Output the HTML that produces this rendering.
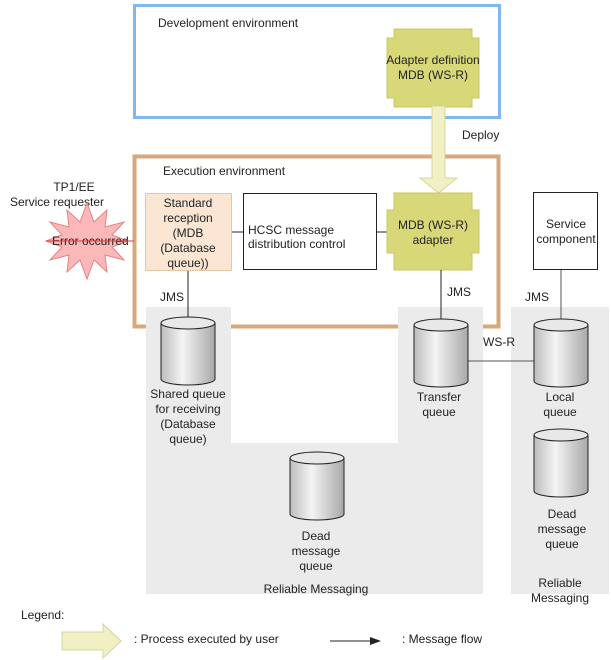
<!DOCTYPE html>
<html><head><meta charset="utf-8"><style>
html,body{margin:0;padding:0;background:#fff;}
svg{display:block;}
text{font-family:"Liberation Sans",sans-serif;font-size:12px;fill:#222;}
</style></head><body>
<svg width="611" height="660" viewBox="0 0 611 660" xmlns="http://www.w3.org/2000/svg">
<defs>
<linearGradient id="cyl" x1="0" x2="1" y1="0" y2="0">
<stop offset="0" stop-color="#bdbdbd"/><stop offset="0.4" stop-color="#f4f4f4"/><stop offset="1" stop-color="#a8a8a8"/>
</linearGradient>
<g id="cy">
<path d="M-27,0 L-27,56 A27,6 0 0 0 27,56 L27,0" fill="url(#cyl)" stroke="#222" stroke-width="1"/>
<ellipse cx="0" cy="0" rx="27" ry="6" fill="#e8e8e8" stroke="#222" stroke-width="1"/>
</g>
</defs>
<!-- gray regions -->
<path d="M146,307 H231 V443 H398 V307 H483 V594 H146 Z" fill="#ebebeb"/>
<rect x="511" y="307" width="98" height="287" fill="#ebebeb"/>
<!-- dev env -->
<rect x="134.5" y="5.5" width="365" height="112" fill="none" stroke="#7fb7f0" stroke-width="3"/>
<text x="158" y="27">Development environment</text>
<!-- adapter def -->
<path d="M394,29 H472 V38 H479 V98 H472 V107 H394 V98 H387 V38 H394 Z" fill="#d8d878" stroke="#c8c860"/>
<text x="433" y="64" text-anchor="middle">Adapter definition</text>
<text x="433" y="79" text-anchor="middle">MDB (WS-R)</text>
<!-- exec env -->
<rect x="134.5" y="156.5" width="364" height="170" fill="none" stroke="#d8a878" stroke-width="4"/>
<text x="163" y="175">Execution environment</text>
<!-- gray columns over exec border -->
<rect x="146" y="307" width="85" height="22" fill="#ebebeb"/>
<rect x="398" y="307" width="85" height="22" fill="#ebebeb"/>
<!-- deploy arrow -->
<path d="M432,106 H445 V178 H457 L438.5,193 L420,178 H432 Z" fill="#f0f0c4" stroke="#d4d4a0"/>
<text x="462" y="139">Deploy</text>
<!-- std reception -->
<rect x="145.5" y="193.5" width="86" height="77" fill="#fae6d2" stroke="#e8c8a4"/>
<text x="188" y="207" text-anchor="middle">Standard</text>
<text x="188" y="222" text-anchor="middle">reception</text>
<text x="188" y="237" text-anchor="middle">(MDB</text>
<text x="188" y="252" text-anchor="middle">(Database</text>
<text x="188" y="267" text-anchor="middle">queue))</text>
<!-- HCSC -->
<rect x="243.5" y="193.5" width="133" height="76" fill="#fff" stroke="#222"/>
<text x="248" y="234">HCSC message</text>
<text x="248" y="248">distribution control</text>
<line x1="232" y1="232" x2="243" y2="232" stroke="#222"/>
<line x1="377" y1="232" x2="387" y2="232" stroke="#222"/>
<!-- MDB adapter -->
<path d="M394,193 H472 V210 H479 V253 H472 V270 H394 V253 H387 V210 H394 Z" fill="#d8d878" stroke="#c8c860"/>
<text x="433" y="229" text-anchor="middle">MDB (WS-R)</text>
<text x="433" y="244" text-anchor="middle">adapter</text>
<!-- service component -->
<rect x="533.5" y="192.5" width="64" height="77" fill="#fff" stroke="#222"/>
<text x="566" y="228" text-anchor="middle">Service</text>
<text x="566" y="243" text-anchor="middle">component</text>
<!-- connectors -->
<line x1="188" y1="271" x2="188" y2="318" stroke="#222"/>
<line x1="441" y1="270" x2="441" y2="320" stroke="#222"/>
<line x1="561" y1="270" x2="561" y2="320" stroke="#555"/>
<line x1="468" y1="361" x2="534" y2="361" stroke="#555"/>
<text x="160" y="301">JMS</text>
<text x="447" y="296">JMS</text>
<text x="525" y="301">JMS</text>
<text x="483" y="346">WS-R</text>
<!-- cylinders -->
<use href="#cy" x="188" y="323"/>
<use href="#cy" x="441" y="325"/>
<use href="#cy" x="561" y="325"/>
<use href="#cy" x="317" y="458"/>
<use href="#cy" x="561" y="435"/>
<text x="188" y="398" text-anchor="middle">Shared queue</text>
<text x="188" y="413" text-anchor="middle">for receiving</text>
<text x="188" y="428" text-anchor="middle">(Database</text>
<text x="188" y="443" text-anchor="middle">queue)</text>
<text x="439" y="401" text-anchor="middle">Transfer</text>
<text x="439" y="416" text-anchor="middle">queue</text>
<text x="560" y="401" text-anchor="middle">Local</text>
<text x="560" y="416" text-anchor="middle">queue</text>
<text x="316" y="540" text-anchor="middle">Dead</text>
<text x="316" y="555" text-anchor="middle">message</text>
<text x="316" y="570" text-anchor="middle">queue</text>
<text x="562" y="518" text-anchor="middle">Dead</text>
<text x="562" y="533" text-anchor="middle">message</text>
<text x="562" y="548" text-anchor="middle">queue</text>
<text x="316" y="593" text-anchor="middle">Reliable Messaging</text>
<text x="560" y="587" text-anchor="middle">Reliable</text>
<text x="560" y="602" text-anchor="middle">Messaging</text>
<!-- requester -->
<text x="74" y="191" text-anchor="middle">TP1/EE</text>
<text x="57" y="206" text-anchor="middle">Service requester</text>
<polygon points="87,203 94,222 107,210 105,227 124,222 112,235 128,241 112,247 124,260 105,255 107,272 94,260 87,279 80,260 67,272 69,255 50,260 62,247 46,241 62,235 50,222 69,227 67,210 80,222" fill="#fbb8b8" stroke="#e88080"/>
<text x="52" y="245">Error occurred</text>
<line x1="46" y1="241" x2="134" y2="241" stroke="#d04040"/>
<!-- legend -->
<text x="21" y="619">Legend:</text>
<path d="M62,632 H103 V624 L121,641 L103,658 V650 H62 Z" fill="#f0f0c4" stroke="#d4d4a0"/>
<text x="134" y="643">: Process executed by user</text>
<line x1="330" y1="641" x2="372" y2="641" stroke="#222"/>
<polygon points="370,637 381,641 370,645" fill="#222"/>
<text x="402" y="643">: Message flow</text>
</svg>
</body></html>
